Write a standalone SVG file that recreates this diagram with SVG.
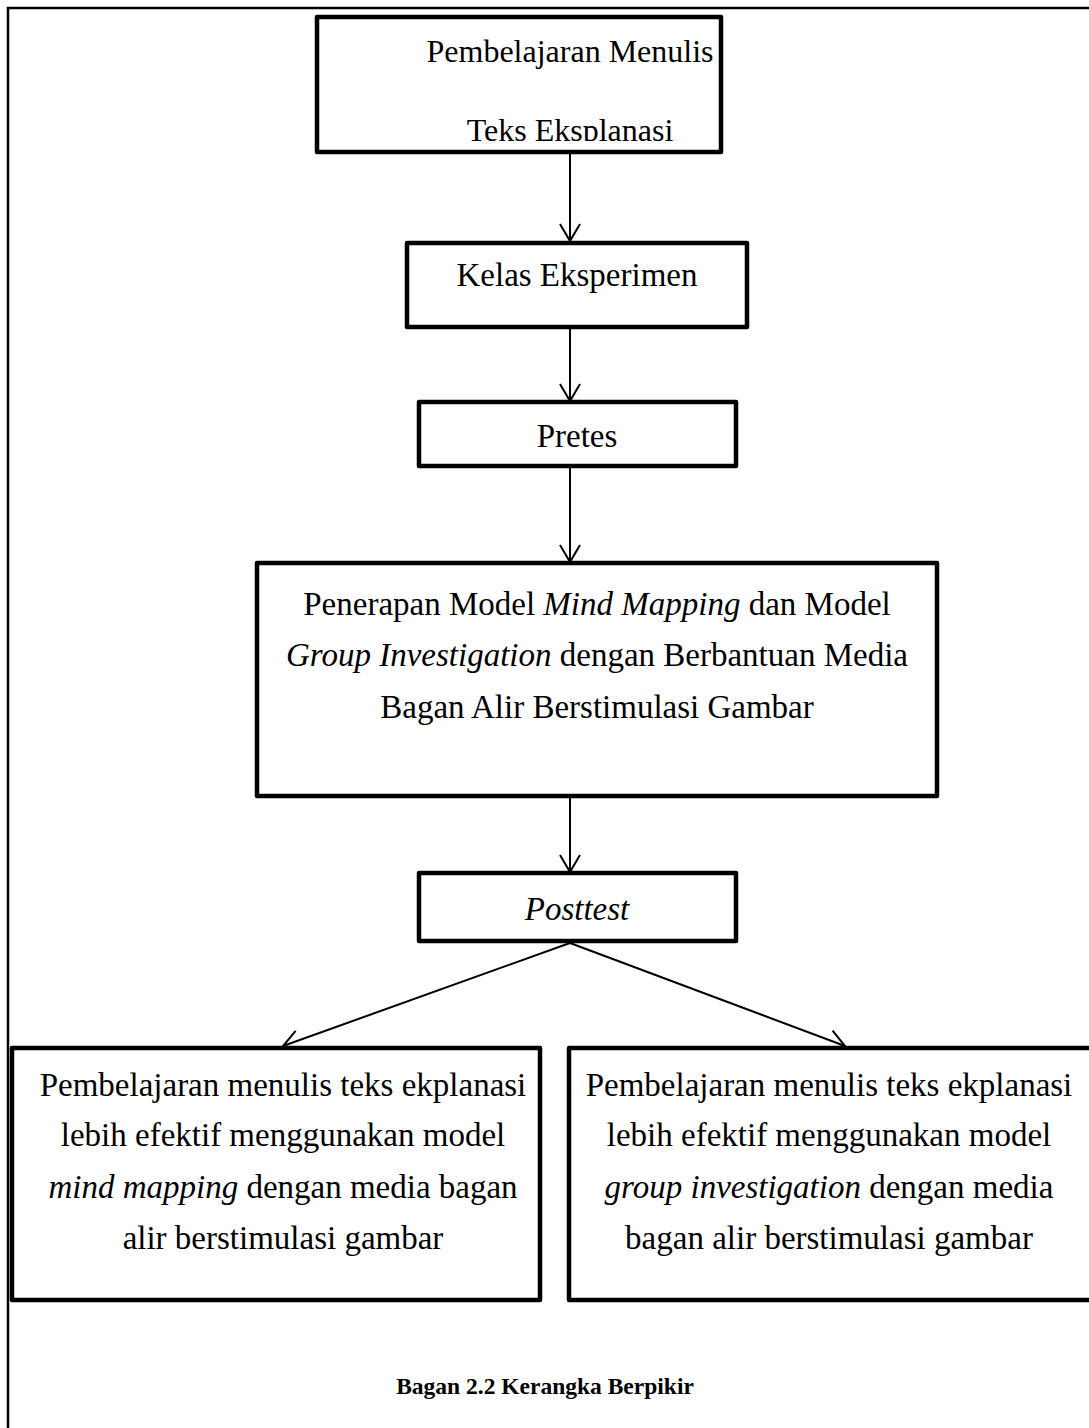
<svg xmlns="http://www.w3.org/2000/svg" width="1089" height="1428" viewBox="0 0 1089 1428">
<style>
.box{fill:#fff;stroke:#000;stroke-width:4.5;stroke-linejoin:round}
.t{font-family:"Liberation Serif","Times New Roman",serif;font-size:33px;fill:#000;text-anchor:middle}
.tt{font-size:32px}
.cap{font-family:"Liberation Serif","Times New Roman",serif;font-size:23.5px;font-weight:bold;fill:#000;text-anchor:middle}
.c{stroke:#000;stroke-width:2;fill:none}
.frame{stroke:#000;stroke-width:2.5;fill:none}
</style>
<defs>
<marker id="ah" markerUnits="userSpaceOnUse" markerWidth="24" markerHeight="26" viewBox="-20 -13 22 26" refX="0" refY="0" orient="auto" overflow="visible">
<path d="M-17,-10 L0,0 L-17,10" fill="none" stroke="#000" stroke-width="2"/>
</marker>
<clipPath id="clipTop"><rect x="317" y="17" width="404" height="124"/></clipPath>
</defs>
<rect width="1089" height="1428" fill="#fff"/>
<path class="frame" d="M8,1428 L8,8 L1089,8"/>
<g id="connectors">
<line class="c" x1="570" y1="154" x2="570" y2="241" marker-end="url(#ah)"/>
<line class="c" x1="570" y1="329" x2="570" y2="401" marker-end="url(#ah)"/>
<line class="c" x1="570" y1="467" x2="570" y2="562" marker-end="url(#ah)"/>
<line class="c" x1="570" y1="798" x2="570" y2="872" marker-end="url(#ah)"/>
<line class="c" x1="570" y1="943" x2="283" y2="1046" marker-end="url(#ah)"/>
<line class="c" x1="570" y1="943" x2="845" y2="1046" marker-end="url(#ah)"/>
</g>
<g id="node-pembelajaran">
<rect class="box" x="317" y="17" width="404" height="135"/>
<g clip-path="url(#clipTop)">
<text class="t tt" x="570" y="62">Pembelajaran Menulis</text>
<text class="t tt" x="570" y="141">Teks Eksplanasi</text>
</g>
</g>
<g id="node-kelas">
<rect class="box" x="407" y="243" width="340" height="84"/>
<text class="t" x="577" y="286">Kelas Eksperimen</text>
</g>
<g id="node-pretes">
<rect class="box" x="419" y="402" width="317" height="64"/>
<text class="t" x="577" y="447">Pretes</text>
</g>
<g id="node-penerapan">
<rect class="box" x="257" y="563" width="680" height="233"/>
<text class="t" x="597" y="615">Penerapan Model <tspan font-style="italic">Mind Mapping</tspan> dan Model</text>
<text class="t" x="597" y="666"><tspan font-style="italic">Group Investigation</tspan> dengan Berbantuan Media</text>
<text class="t" x="597" y="718">Bagan Alir Berstimulasi Gambar</text>
</g>
<g id="node-posttest">
<rect class="box" x="419" y="873" width="317" height="68"/>
<text class="t" x="577" y="920" font-style="italic">Posttest</text>
</g>
<g id="node-hasil-mm">
<rect class="box" x="12" y="1048" width="528" height="252"/>
<text class="t" x="283" y="1096">Pembelajaran menulis teks ekplanasi</text>
<text class="t" x="283" y="1146">lebih efektif menggunakan model</text>
<text class="t" x="283" y="1198"><tspan font-style="italic">mind mapping</tspan> dengan media bagan</text>
<text class="t" x="283" y="1249">alir berstimulasi gambar</text>
</g>
<g id="node-hasil-gi">
<rect class="box" x="569" y="1048" width="540" height="252"/>
<text class="t" x="829" y="1096">Pembelajaran menulis teks ekplanasi</text>
<text class="t" x="829" y="1146">lebih efektif menggunakan model</text>
<text class="t" x="829" y="1198"><tspan font-style="italic">group investigation</tspan> dengan media</text>
<text class="t" x="829" y="1249">bagan alir berstimulasi gambar</text>
</g>
<text class="cap" x="545" y="1394">Bagan 2.2 Kerangka Berpikir</text>
</svg>
